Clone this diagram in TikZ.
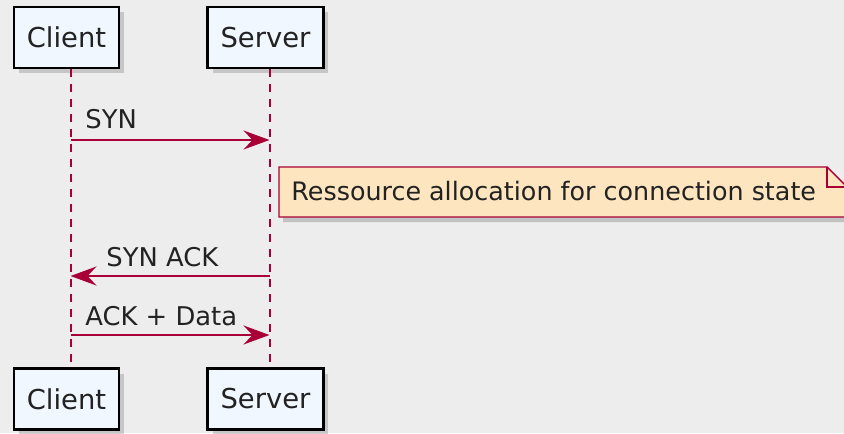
\documentclass[tikz,border=0pt]{standalone}
\usepackage{fontspec}
\setmainfont{DejaVu Sans}
\usetikzlibrary{arrows.meta, positioning, shadows}

\definecolor{umlred}{HTML}{A80036}
\definecolor{boxfill}{HTML}{F0F7FE}
\definecolor{notefill}{HTML}{FCE5BF}
\definecolor{paper}{HTML}{EDEDED}
\definecolor{ink}{HTML}{222222}

\tikzset{
    participant/.style={draw=black, line width=1.2pt, fill=boxfill, text=ink,
        inner xsep=6.5pt, minimum height=30.5pt, font=\fontsize{13.7}{16}\selectfont,
        drop shadow={shadow xshift=2.5pt, shadow yshift=-2.5pt, opacity=0.35}},
    lifeline/.style={umlred, line width=1pt, dash pattern=on 4pt off 3.5pt},
    message/.style={umlred, line width=1pt,
        -{Stealth[length=13pt, width=9.5pt, inset=4.5pt]}},
    msglabel/.style={text=ink, inner sep=0pt, anchor=base west,
        font=\fontsize{12.9}{15}\selectfont}
}

\begin{document}
\begin{tikzpicture}[x=0.5pt, y=-0.5pt]
    % Paper and frame
    \fill[paper] (0,0) rectangle (844,433);
    \useasboundingbox (0,0) rectangle (844,433);

    % Participants at top and bottom
    \node[participant] (clientTop) at (66.5,37.5) {Client};
    \node[participant] (serverTop) at (265.5,37.5) {Server};
    \node[participant] (clientBot) at (66.5,399) {Client};
    \node[participant] (serverBot) at (265.5,399) {Server};

    % Lifelines
    \coordinate (cTop) at ([xshift=2pt]clientTop.south);
    \coordinate (cBot) at ([xshift=2pt]clientBot.north);
    \coordinate (sTop) at ([xshift=2pt]serverTop.south);
    \coordinate (sBot) at ([xshift=2pt]serverBot.north);
    \draw[lifeline] (cTop) -- (cBot);
    \draw[lifeline] (sTop) -- (sBot);

    % Messages
    \def\ySyn{140}
    \def\yAck{276}
    \def\yData{335}
    \coordinate (cSyn) at (cTop |- 0,\ySyn);
    \coordinate (sSyn) at (sTop |- 0,\ySyn);
    \coordinate (cAck) at (cTop |- 0,\yAck);
    \coordinate (sAck) at (sTop |- 0,\yAck);
    \coordinate (cData) at (cTop |- 0,\yData);
    \coordinate (sData) at (sTop |- 0,\yData);

    \draw[message] (cSyn) -- (sSyn);
    \node[msglabel] (synLbl) at (85,128) {SYN};
    \draw[message] (sAck) -- (cAck);
    \node[msglabel] (synAckLbl) at (106,266) {SYN ACK};
    \draw[message] (cData) -- (sData);
    \node[msglabel] (dataLbl) at (85,325) {ACK + Data};

    % Note with folded corner
    \fill[black, opacity=0.18] (283,171) -- (831,171) -- (851,191) -- (851,222) -- (283,222) -- cycle;
    \filldraw[fill=notefill, draw=umlred, line width=0.7pt]
        (279,167) -- (827,167) -- (847,187) -- (847,217) -- (279,217) -- cycle;
    \draw[umlred, line width=0.7pt] (827,167) -- (827,187) -- (847,187);
    \node[anchor=west, inner sep=0pt, text=ink, font=\fontsize{12.7}{15}\selectfont]
        (noteTxt) at (291,191) {Ressource allocation for connection state};
\end{tikzpicture}
\end{document}
